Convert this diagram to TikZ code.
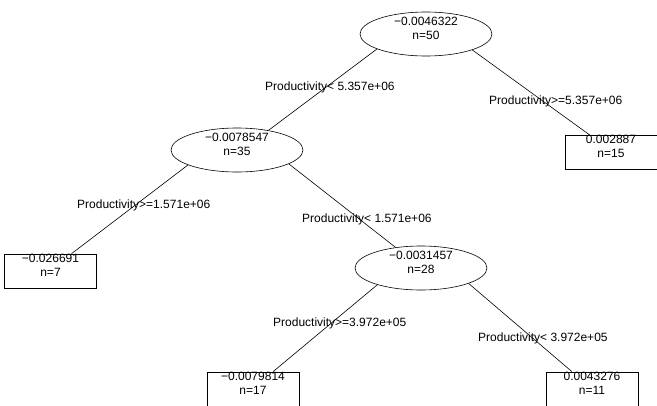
\documentclass[tikz,border=0pt]{standalone}
\usepackage{fontspec}
\setmainfont{Liberation Sans}
\usetikzlibrary{shapes.geometric}
\begin{document}
\begin{tikzpicture}[x=1pt,y=-1pt,
  split/.style={ellipse, draw, line width=0.6pt, minimum width=132pt, minimum height=44pt, inner sep=0pt},
  leaf/.style={rectangle, draw, line width=0.6pt, minimum width=92pt, minimum height=34pt, inner sep=0pt},
  val/.style={align=center, font=\fontsize{12}{14}\selectfont, inner sep=0pt},
  cond/.style={anchor=west, font=\fontsize{12}{14}\selectfont, inner sep=0pt},
  edge/.style={line width=0.6pt}]
\useasboundingbox (0,0) rectangle (657,405);
% split nodes
\node[split] (root) at (426,34) {};
\node[split] (n2) at (237,150) {};
\node[split] (n3) at (421,268) {};
% leaves
\node[leaf] (r1) at (611,152.5) {};
\node[leaf] (l1) at (50.5,271) {};
\node[leaf] (l2) at (253,389) {};
\node[leaf] (r2) at (592,389) {};
% values
\node[val] (troot) at ([yshift=6pt]root.center) {−0.0046322\\n=50};
\node[val] (tn2) at ([yshift=6pt]n2.center) {−0.0078547\\n=35};
\node[val] (tn3) at ([yshift=6pt]n3.center) {−0.0031457\\n=28};
\node[val] (tr1) at ([yshift=6pt]r1.center) {0.002887\\n=15};
\node[val] (tl1) at ([yshift=6pt]l1.center) {−0.026691\\n=7};
\node[val] (tl2) at ([yshift=6pt]l2.center) {−0.0079814\\n=17};
\node[val] (tr2) at ([yshift=6pt]r2.center) {0.0043276\\n=11};
% edges
\draw[edge] (root.197) -- (n2.32);
\draw[edge] (root.341) -- ([xshift=-21pt]r1.north);
\draw[edge] (n2.197) -- ([xshift=21pt]l1.north);
\draw[edge] (n2.345) -- (n3.141);
\draw[edge] (n3.201) -- ([xshift=20pt]l2.north);
\draw[edge] (n3.342) -- ([xshift=-20pt]r2.north);
% conditions
\node[cond] (c1) at (265,87) {Productivity< 5.357e+06};
\node[cond] (c2) at (489,101) {Productivity>=5.357e+06};
\node[cond] (c3) at (77,205) {Productivity>=1.571e+06};
\node[cond] (c4) at (302,219) {Productivity< 1.571e+06};
\node[cond] (c5) at (273,323) {Productivity>=3.972e+05};
\node[cond] (c6) at (478,338) {Productivity< 3.972e+05};
\end{tikzpicture}
\end{document}
